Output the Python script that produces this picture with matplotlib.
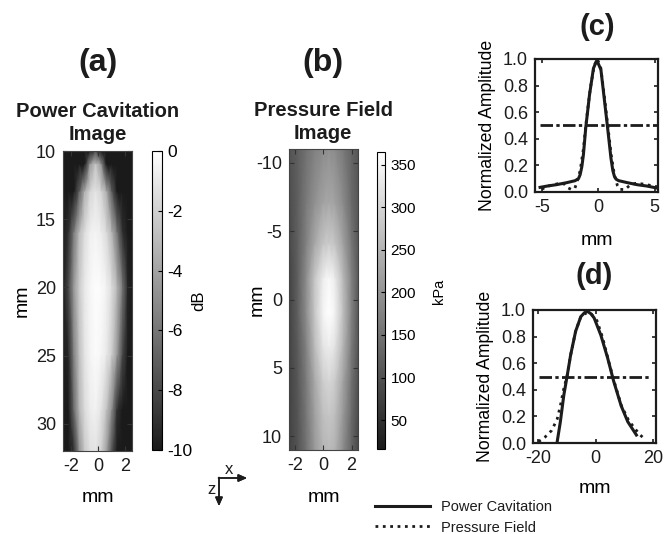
#!/usr/bin/env python3
# -*- coding: utf-8 -*-

import matplotlib
matplotlib.use('Agg')
import matplotlib.pyplot as plt
from matplotlib.colors import LinearSegmentedColormap
from matplotlib.lines import Line2D

W, H = 664, 534
INK = '#1c1c1c'

# (a) power cavitation image, dB on a coarse grid
pc_lat = [-2.6, -2.2, -1.8, -1.4, -1.0, -0.6, -0.2, 0.2, 0.6, 1.0, 1.4, 1.8, 2.2, 2.5]
pc_depth = [10, 11, 13, 16, 20, 25, 29, 32]
pc_db = [
    [-10, -10, -10, -10, -10, -10, -8.0, -10, -10, -10, -10, -10, -10, -10],
    [-10, -10, -10, -10, -10, -4.5, -2.5, -4.5, -10, -10, -10, -10, -10, -10],
    [-10, -10, -10, -7.0, -3.5, -1.8, -1.2, -1.8, -3.5, -7.0, -10, -10, -10, -10],
    [-10, -9.0, -5.8, -3.0, -1.5, -0.7, -0.5, -0.8, -1.6, -3.2, -6.0, -9.0, -10, -10],
    [-10, -8.0, -4.5, -2.3, -1.0, -0.4, -0.1, -0.2, -0.6, -1.5, -3.2, -6.0, -9.5, -10],
    [-10, -9.5, -5.5, -2.8, -1.2, -0.5, -0.2, -0.4, -1.0, -2.2, -4.5, -8.0, -10, -10],
    [-10, -10, -6.5, -3.2, -1.6, -0.8, -0.6, -1.2, -2.6, -5.0, -9.0, -10, -10, -10],
    [-10, -10, -9.0, -4.8, -2.4, -1.4, -1.2, -2.0, -4.0, -7.5, -10, -10, -10, -10],
]
pc_ticks = [0, -2, -4, -6, -8, -10]

# (b) pressure field image, kPa
pf_lat = [-2.4, -1.8, -1.2, -0.6, 0.0, 0.4, 0.8, 1.4, 2.0, 2.45]
pf_depth = [-11, -7, -4, -1.5, 1, 3.5, 6, 8.5, 11]
pf_kpa = [
    [103, 121, 149, 173, 190, 197, 190, 163, 128, 110],
    [93, 121, 163, 197, 225, 232, 225, 190, 138, 110],
    [86, 121, 173, 232, 278, 288, 278, 225, 156, 110],
    [79, 121, 190, 278, 337, 355, 337, 260, 173, 114],
    [79, 121, 190, 278, 348, 365, 348, 267, 173, 110],
    [79, 114, 173, 260, 323, 337, 323, 253, 163, 107],
    [79, 110, 163, 232, 288, 302, 288, 225, 149, 100],
    [79, 107, 156, 218, 267, 278, 267, 208, 138, 93],
    [79, 103, 149, 208, 253, 260, 250, 190, 128, 86],
]
pf_range = [16, 365]
pf_ticks = [50, 100, 150, 200, 250, 300, 350]

# (c) lateral profiles
c_x_pc = [-5.15, -4.5, -3.7, -2.8, -2.05, -1.75, -1.6, -1.45, -1.31, -1.1, -0.77, -0.42,
          -0.12, 0.24, 0.54, 0.83, 1.13, 1.3, 1.43, 1.6, 1.82, 2.6, 3.45, 4.3, 5.2]
c_y_pc = [0.035, 0.045, 0.055, 0.07, 0.085, 0.1, 0.13, 0.19, 0.28, 0.485, 0.73, 0.93,
          0.99, 0.92, 0.70, 0.485, 0.255, 0.16, 0.12, 0.095, 0.085, 0.07, 0.055, 0.045, 0.03]
c_x_pf = [-5.0, -4.6, -4.0, -3.4, -3.0, -2.65, -2.36, -2.06, -1.9, -1.6, -1.3, -1.1, -0.7,
          -0.35, -0.1, 0.2, 0.5, 0.85, 1.15, 1.45, 1.7, 1.92, 2.36, 2.8, 3.3, 4.0, 4.6, 5.2]
c_y_pf = [0.02, 0.04, 0.055, 0.065, 0.06, 0.03, 0.018, 0.03, 0.07, 0.16, 0.33, 0.5, 0.78,
          0.95, 1.0, 0.95, 0.75, 0.5, 0.28, 0.12, 0.05, 0.02, 0.018, 0.05, 0.065, 0.06, 0.05, 0.04]
c_half_x = [-5.16, 5.17]

# (d) axial profiles
d_x_pc = [-13.3, -12.2, -11.0, -9.8, -8.65, -6.9, -5.1, -3.8, -2.8, -1.5, -0.47, 1.87,
          4.2, 6.3, 8.9, 11.2, 14.2]
d_y_pc = [0.01, 0.16, 0.36, 0.51, 0.66, 0.84, 0.95, 0.98, 0.99, 0.97, 0.94, 0.81,
          0.64, 0.465, 0.28, 0.16, 0.06]
d_x_pf = [-19.8, -17.5, -15.2, -13.3, -12.2, -11.0, -9.8, -8.65, -6.9, -5.1, -3.0, -1.5,
          0.5, 2.5, 4.5, 6.5, 9.0, 11.5, 13.6, 15.5, 17.1]
d_y_pf = [0.01, 0.045, 0.095, 0.18, 0.28, 0.41, 0.51, 0.66, 0.84, 0.95, 0.98, 0.97,
          0.92, 0.79, 0.62, 0.46, 0.28, 0.17, 0.11, 0.06, 0.03]
d_half_x = [-19.7, 18.6]

half_level = 0.5
amp_ticks = [0.0, 0.2, 0.4, 0.6, 0.8, 1.0]

DASH_DOT = (4.5, 1.2, 1.2, 1.2)


def fx(px):
    return px / W


def fy(py):
    return 1 - py / H


def box(x0, y0, x1, y1):
    # pixel box (top-left origin) -> figure fraction rect
    return [fx(x0), fy(y1), (x1 - x0) / W, (y1 - y0) / H]


def style_image_axes(ax):
    ax.tick_params(direction='in', length=3.5, width=0.8, color='#333333',
                   top=True, right=True, labelsize=13, pad=5, labelcolor=INK)
    for s in ax.spines.values():
        s.set_linewidth(0.8)
        s.set_color('#444444')


def style_profile_axes(ax):
    ax.tick_params(direction='in', length=3, width=1.2, color=INK,
                   top=True, right=True, labelsize=13, pad=5, labelcolor=INK)
    for s in ax.spines.values():
        s.set_linewidth(1.6)
        s.set_color(INK)


plt.rcParams['font.family'] = ['Liberation Sans', 'DejaVu Sans']
plt.rcParams['text.color'] = INK
plt.rcParams['axes.unicode_minus'] = False

cmap = LinearSegmentedColormap.from_list('scan_gray', ['#1a1a1a', '#ffffff'])

fig = plt.figure(figsize=(W / 100, H / 100), dpi=100)

# ---- (a) power cavitation image
ax_a = fig.add_axes(box(63, 151, 132, 451))
im_a = ax_a.pcolormesh(pc_lat, pc_depth, pc_db, shading='gouraud', cmap=cmap, vmin=-10, vmax=0)
ax_a.set_xlim(-2.6, 2.5)
ax_a.set_ylim(32, 10)
ax_a.set_xticks([-2, 0, 2])
ax_a.set_yticks([10, 15, 20, 25, 30])
style_image_axes(ax_a)
ax_a.set_xlabel('mm', fontsize=14, va='baseline')
ax_a.xaxis.set_label_coords(0.5, (451 - 502) / 300)
ax_a.set_ylabel('mm', fontsize=14, va='baseline')
ax_a.yaxis.set_label_coords((27 - 63) / 69, 0.5)

cax_a = fig.add_axes(box(152, 151, 162, 450))
cb_a = fig.colorbar(im_a, cax=cax_a)
cb_a.set_ticks(pc_ticks)
cb_a.ax.tick_params(direction='in', length=3, width=0.8, labelsize=12.5, pad=4)
cb_a.outline.set_linewidth(0.8)
cb_a.set_label('dB', fontsize=12)
cb_a.ax.yaxis.label.set_va('baseline')
cb_a.ax.yaxis.set_label_coords((203 - 152) / 10, 0.5)

# ---- (b) pressure field image
ax_b = fig.add_axes(box(289, 149, 358, 450))
im_b = ax_b.pcolormesh(pf_lat, pf_depth, pf_kpa, shading='gouraud', cmap=cmap,
                       vmin=pf_range[0], vmax=pf_range[1])
ax_b.set_xlim(-2.4, 2.45)
ax_b.set_ylim(11, -11)
ax_b.set_xticks([-2, 0, 2])
ax_b.set_yticks([-10, -5, 0, 5, 10])
style_image_axes(ax_b)
ax_b.set_xlabel('mm', fontsize=14, va='baseline')
ax_b.xaxis.set_label_coords(0.5, (450 - 502) / 301)
ax_b.set_ylabel('mm', fontsize=14, va='baseline')
ax_b.yaxis.set_label_coords((262 - 289) / 69, 0.5)

cax_b = fig.add_axes(box(377, 152, 385, 449))
cb_b = fig.colorbar(im_b, cax=cax_b)
cb_b.set_ticks(pf_ticks)
cb_b.ax.tick_params(direction='in', length=3, width=0.8, labelsize=11, pad=4)
cb_b.outline.set_linewidth(0.8)
cb_b.set_label('kPa', fontsize=10.5)
cb_b.ax.yaxis.label.set_va('baseline')
cb_b.ax.yaxis.set_label_coords((443 - 377) / 8, 0.53)

# ---- (c) lateral profile
ax_c = fig.add_axes(box(535, 59, 658, 192))
ax_c.plot(c_x_pc, c_y_pc, color=INK, lw=2.2, solid_joinstyle='round')
ax_c.plot(c_x_pf, c_y_pf, color=INK, lw=2.0, ls=':')
ax_c.plot(c_half_x, [half_level, half_level], color=INK, lw=2.0, dashes=DASH_DOT)
ax_c.set_xlim(-5.6, 5.3)
ax_c.set_ylim(0, 1)
ax_c.set_xticks([-5, 0, 5])
ax_c.set_yticks(amp_ticks)
ax_c.set_yticklabels(['%.1f' % t for t in amp_ticks])
style_profile_axes(ax_c)
ax_c.set_xlabel('mm', fontsize=14, va='baseline')
ax_c.xaxis.set_label_coords(0.5, (192 - 245) / 133)
ax_c.set_ylabel('Normalized Amplitude', fontsize=12.7, va='baseline')
ax_c.yaxis.set_label_coords((492 - 535) / 123, 0.5)

# ---- (d) axial profile
ax_d = fig.add_axes(box(533, 310, 656, 443))
ax_d.plot(d_x_pc, d_y_pc, color=INK, lw=2.2, solid_joinstyle='round')
ax_d.plot(d_x_pf, d_y_pf, color=INK, lw=2.0, ls=':')
ax_d.plot(d_half_x, [half_level, half_level], color=INK, lw=2.0, dashes=DASH_DOT)
ax_d.set_xlim(-21.7, 21)
ax_d.set_ylim(0, 1)
ax_d.set_xticks([-20, 0, 20])
ax_d.set_yticks(amp_ticks)
ax_d.set_yticklabels(['%.1f' % t for t in amp_ticks])
style_profile_axes(ax_d)
ax_d.set_xlabel('mm', fontsize=14, va='baseline')
ax_d.xaxis.set_label_coords(0.5, (443 - 493) / 133)
ax_d.set_ylabel('Normalized Amplitude', fontsize=12.7, va='baseline')
ax_d.yaxis.set_label_coords((490 - 533) / 123, 0.5)

# ---- panel letters and titles
fig.text(fx(98), fy(71), '(a)', ha='center', va='baseline', fontsize=23, fontweight='bold')
fig.text(fx(323), fy(71), '(b)', ha='center', va='baseline', fontsize=23, fontweight='bold')
fig.text(fx(597), fy(35), '(c)', ha='center', va='baseline', fontsize=21, fontweight='bold')
fig.text(fx(594), fy(284), '(d)', ha='center', va='baseline', fontsize=21, fontweight='bold')

fig.text(fx(98), fy(117), 'Power Cavitation', ha='center', va='baseline', fontsize=14.5, fontweight='bold')
fig.text(fx(98), fy(140), 'Image', ha='center', va='baseline', fontsize=14.5, fontweight='bold')
fig.text(fx(323), fy(116), 'Pressure Field', ha='center', va='baseline', fontsize=14.5, fontweight='bold')
fig.text(fx(323), fy(139), 'Image', ha='center', va='baseline', fontsize=14.5, fontweight='bold')

# ---- coordinate arrows
arrow_kw = dict(arrowstyle='-|>,head_length=0.5,head_width=0.22', lw=1.1, color=INK,
                shrinkA=0, shrinkB=0)
fig.add_artist(plt.annotate('', xy=(fx(247), fy(478)), xytext=(fx(218.5), fy(478)),
                            xycoords='figure fraction', arrowprops=arrow_kw))
fig.add_artist(plt.annotate('', xy=(fx(219), fy(506)), xytext=(fx(219), fy(477.5)),
                            xycoords='figure fraction', arrowprops=arrow_kw))
fig.text(fx(229), fy(474), 'x', ha='center', va='baseline', fontsize=12)
fig.text(fx(211), fy(494), 'z', ha='center', va='baseline', fontsize=12)

# ---- legend
handles = [Line2D([], [], color=INK, lw=2.2, ls='-', label='Power Cavitation'),
           Line2D([], [], color=INK, lw=2.0, ls=':', label='Pressure Field')]
fig.legend(handles=handles, loc='upper left', bbox_to_anchor=(fx(375), fy(500)),
           frameon=False, fontsize=10.5, handlelength=3.8, handletextpad=0.7,
           borderpad=0, borderaxespad=0, labelspacing=0.45)

fig.savefig('out.png', dpi=100)
